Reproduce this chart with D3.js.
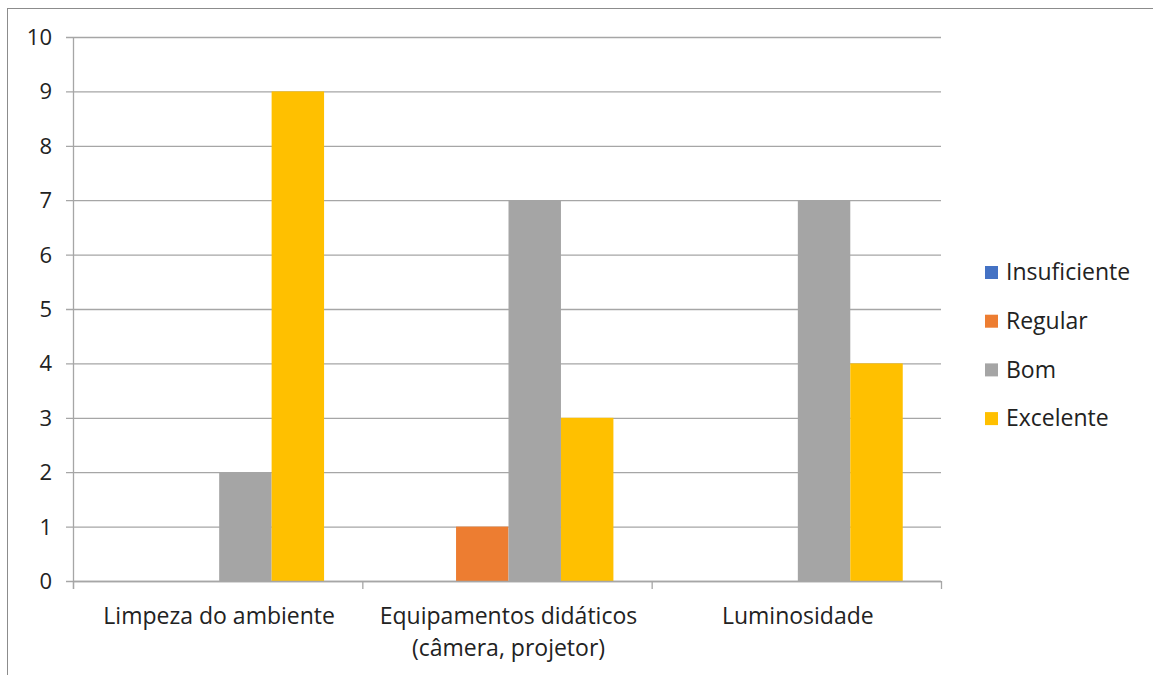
<!DOCTYPE html>
<html><head><meta charset="utf-8">
<script src="https://cdn.jsdelivr.net/npm/d3@7"></script>
<style>body{margin:0;background:#fff}svg{display:block}text{font-family:"Open Sans",Lato,sans-serif;fill:#222}</style>
</head><body>
<svg id="c" width="1153" height="675"></svg>
<script>
const categories = [["Limpeza do ambiente"], ["Equipamentos didáticos", "(câmera, projetor)"], ["Luminosidade"]];
const seriesNames = ["Insuficiente", "Regular", "Bom", "Excelente"];
const insuficiente = [0, 0, 0];
const regular = [0, 1, 0];
const bom = [2, 7, 7];
const excelente = [9, 3, 4];
const colors = ["#4472C4", "#ED7D31", "#A5A5A5", "#FFC000"];
const yTicks = [0,1,2,3,4,5,6,7,8,9,10];

const values = [insuficiente, regular, bom, excelente];
const svg = d3.select("#c");
const L = 73, R = 941, T = 37, B = 581;
const FS = 23;

svg.append("rect").attr("x",7.5).attr("y",8.5).attr("width",1200).attr("height",700)
  .attr("fill","none").attr("stroke","#8c8c8c").attr("stroke-width",1);

const x0 = d3.scaleBand().domain(d3.range(categories.length)).range([L,R]).paddingInner(0).paddingOuter(0);
const x1 = d3.scaleBand().domain(d3.range(seriesNames.length)).range([0,x0.bandwidth()]).paddingOuter(0.758).paddingInner(0);
const y = d3.scaleLinear().domain([0,10]).range([B,T]);

// gridlines
svg.append("g").selectAll("line").data(yTicks).join("line")
  .attr("x1",66).attr("x2",R).attr("y1",d=>y(d)+0.5).attr("y2",d=>y(d)+0.5)
  .attr("stroke","#a6a6a6").attr("stroke-width",1.3);

// y labels
svg.append("g").selectAll("text").data(yTicks).join("text")
  .attr("x",52).attr("y",d=>y(d)).attr("dy","0.36em").attr("text-anchor","end")
  .attr("font-size",FS-1).text(d=>d);

// bars
const g = svg.append("g");
categories.forEach((c,i)=>{
  seriesNames.forEach((s,j)=>{
    const v = values[j][i];
    if (v>0) g.append("rect").attr("x",x0(i)+x1(j)+1.5).attr("width",x1.bandwidth())
      .attr("y",y(v)).attr("height",y(0)-y(v)).attr("fill",colors[j]);
  });
});

// axes lines
svg.append("line").attr("x1",L+0.5).attr("x2",L+0.5).attr("y1",T).attr("y2",B+8).attr("stroke","#a6a6a6").attr("stroke-width",1.3);
svg.append("line").attr("x1",L).attr("x2",R).attr("y1",B+0.5).attr("y2",B+0.5).attr("stroke","#a6a6a6").attr("stroke-width",1.3);
svg.append("g").selectAll("line").data(d3.range(categories.length+1)).join("line")
  .attr("x1",d=>(d<categories.length?x0(d):R)+0.5).attr("x2",d=>(d<categories.length?x0(d):R)+0.5)
  .attr("y1",B).attr("y2",B+8).attr("stroke","#a6a6a6").attr("stroke-width",1.3);

// category labels
const cl = svg.append("g").selectAll("text").data(categories).join("text")
  .attr("x",(d,i)=>x0(i)+x0.bandwidth()/2+1.5).attr("y",624).attr("text-anchor","middle").attr("font-size",FS);
cl.selectAll("tspan").data(d=>d).join("tspan")
  .attr("x",function(){return this.parentNode.getAttribute("x");})
  .attr("dy",(d,k)=>k?32:0).text(d=>d);

// legend
const lg = svg.append("g").selectAll("g").data(seriesNames).join("g")
  .attr("transform",(d,i)=>`translate(985,${272+i*48.7})`);
lg.append("rect").attr("x",0).attr("y",-6).attr("width",13).attr("height",13).attr("fill",(d,i)=>colors[i]);
lg.append("text").attr("x",21).attr("y",0).attr("dy","0.36em").attr("font-size",FS).text(d=>d);
</script>
</body></html>
